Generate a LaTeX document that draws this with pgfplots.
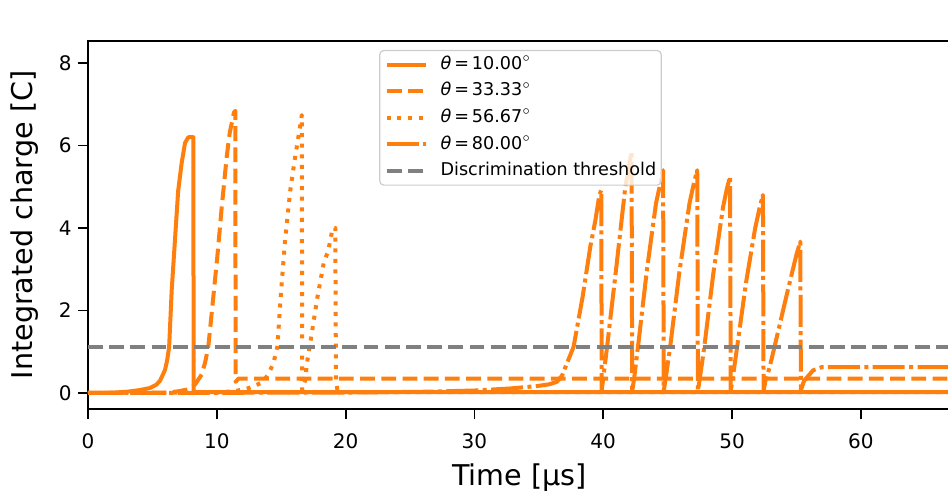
\documentclass[border=0pt]{standalone}
\usepackage{fontspec}
\setmainfont{DejaVu Sans}
\usepackage{pgfplots}
\pgfplotsset{compat=1.18}
\definecolor{tabor}{HTML}{FF7F0E}
\definecolor{thgray}{HTML}{808080}
\definecolor{leggray}{HTML}{CCCCCC}

\pgfplotstableread{
x y
0 0
2 0.01
3 0.03
4 0.07
4.8 0.12
5.3 0.2
5.6 0.3
5.98 0.56
6.15 0.8
6.3 1.12
6.5 2.5
6.75 3.7
7.0 4.9
7.27 5.57
7.53 6.06
7.79 6.2
8.18 6.2
8.2 0.02
67.5 0.02
}\solid

\pgfplotstableread{
x y
0 0
6 0.01
7 0.04
7.8 0.09
8.3 0.2
8.83 0.45
9.1 0.75
9.34 1.12
9.73 2.33
10.04 3.3
10.38 4.5
10.77 5.73
11.0 6.3
11.33 6.8
11.44 6.84
11.46 0.27
11.7 0.35
67.5 0.35
}\dashed

\pgfplotstableread{
x y
0 0
10 0.01
11.5 0.05
12.5 0.12
13.5 0.25
14.0 0.45
14.4 0.73
14.7 1.12
15.0 2.5
15.3 3.7
15.7 4.9
16.07 5.7
16.46 6.45
16.6 6.74
16.63 0.07
16.85 0.3
17.0 0.73
17.25 1.2
17.8 2.3
18.3 3.15
18.65 3.45
19.0 4.0
19.2 4.0
19.25 0.27
19.4 0.02
67.5 0.02
}\dotted

\pgfplotstableread{
x y
0 0
20 0.01
26 0.03
30 0.06
32.8 0.11
34.9 0.17
35.8 0.21
36.4 0.27
36.8 0.42
37.2 0.73
37.7 1.12
38.4 2.33
39.0 3.55
39.4 4.2
39.7 4.8
39.85 4.92
39.88 0.05
40.0 0.35
40.3 1.12
41.0 3.0
41.7 4.95
42.0 5.5
42.2 5.85
42.25 0.05
42.4 0.35
42.7 1.12
43.4 3.0
44.1 4.6
44.45 5.1
44.65 5.4
44.7 0.05
44.85 0.35
45.2 1.12
45.9 2.9
46.7 4.6
47.05 5.1
47.3 5.4
47.35 0.05
47.5 0.35
47.85 1.12
48.55 2.9
49.3 4.5
49.6 4.95
49.85 5.25
49.9 0.05
50.05 0.35
50.4 1.12
51.1 2.7
51.8 4.0
52.15 4.5
52.4 4.8
52.45 0.05
52.6 0.3
52.9 0.6
53.3 1.12
54.3 2.45
55.0 3.35
55.3 3.67
55.35 0.07
55.6 0.3
56.3 0.55
57.0 0.63
67.5 0.63
}\dashdot

\pgfplotstableread{
x y
0 1.12
67.5 1.12
}\thresh

\begin{document}
\begin{tikzpicture}
\useasboundingbox (-44pt,-40.85pt) rectangle (430pt,204.65pt);
\begin{axis}[
  at={(0,0)}, anchor=south west,
  scale only axis, width=432pt, height=184.3pt,
  xmin=0, xmax=67.08, ymin=-0.395, ymax=8.54,
  xtick={0,10,20,30,40,50,60}, ytick={0,2,4,6,8},
  xtick pos=left, ytick pos=left,
  minor tick num=0,
  tick align=outside, major tick length=5pt,
  every tick/.style={black, line width=0.9pt},
  axis line style={black, line width=0.9pt},
  /pgf/number format/assume math mode=true,
  ticklabel style={font=\fontsize{10}{12}\selectfont},
  xticklabel style={inner sep=0pt, anchor=north, yshift=-7pt},
  yticklabel style={inner sep=0pt, anchor=east, xshift=-3pt},
  xlabel={Time [µs]},
  ylabel={Integrated charge [C]},
  xlabel style={font=\fontsize{14.3}{16}\selectfont, at={(axis description cs:0.4994,0)}, anchor=base, yshift=-37.9pt},
  ylabel style={font=\fontsize{14.3}{16}\selectfont, at={(axis description cs:-0.0637,0.5)}, anchor=base},
  legend cell align=left,
  legend image code/.code={\draw[#1] (0pt,0pt) -- (19.7pt,0pt);},
  legend style={at={(axis description cs:0.337,0.975)}, anchor=north west,
    draw=leggray, line width=0.6pt, rounded corners=2pt, fill=white, fill opacity=0.8, text opacity=1,
    font=\fontsize{8.8}{11}\selectfont, inner xsep=2.5pt, inner ysep=2.8pt,
    row sep=4.8pt, column sep=6.2pt,
    nodes={inner sep=0pt, text height=6.6pt, text depth=1.9pt}},
  clip=true,
]
\addplot[tabor, line width=2pt, line join=round] table {\solid};
\addlegendentry{\textit{θ}\,=\,10.00$^{\circ}$}
\addplot[tabor, line width=2pt, line join=round, dash pattern=on 7.4pt off 3.2pt] table {\dashed};
\addlegendentry{\textit{θ}\,=\,33.33$^{\circ}$}
\addplot[tabor, line width=2pt, line join=round, dash pattern=on 2pt off 3.3pt] table {\dotted};
\addlegendentry{\textit{θ}\,=\,56.67$^{\circ}$}
\addplot[tabor, line width=2pt, line join=round, dash pattern=on 16pt off 2.2pt on 2pt off 2.2pt] table {\dashdot};
\addlegendentry{\textit{θ}\,=\,80.00$^{\circ}$}
\addplot[thgray, line width=2pt, dash pattern=on 7.4pt off 3.2pt] table {\thresh};
\addlegendentry{Discrimination threshold}
\node[anchor=base west, inner sep=0pt, font=\fontsize{10}{12}\selectfont] at (axis description cs:0,1) [yshift=4.35pt] {1e−15};
\end{axis}
\end{tikzpicture}
\end{document}
